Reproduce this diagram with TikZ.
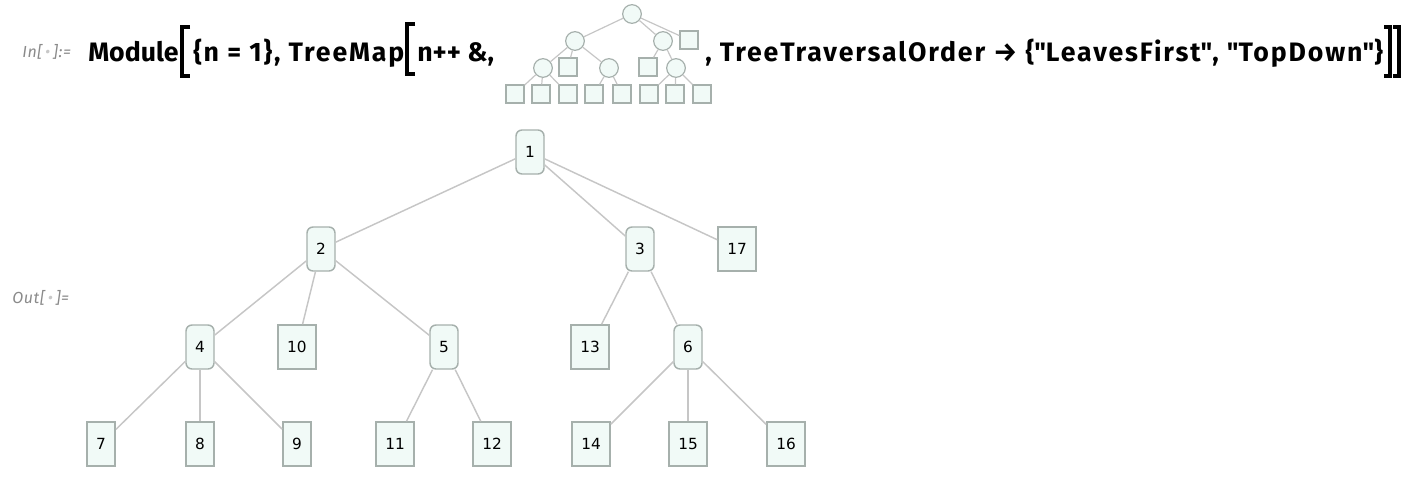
\documentclass[tikz,border=0pt]{standalone}
\usepackage{fontspec}
\setmainfont{Fira Sans}
\newfontfamily\labelfont{DejaVu Sans}
\usetikzlibrary{positioning}
\definecolor{nodefill}{HTML}{F1FAF7}
\definecolor{nodeline}{HTML}{A6B0AC}
\definecolor{edgecol}{HTML}{C6C6C6}
\definecolor{promptcol}{HTML}{8A8A8A}
\definecolor{dotcol}{HTML}{C8C8C8}
\newcommand{\qt}{\textquotedbl}
\tikzset{basic/.style={draw=nodeline,fill=nodefill,line width=1.1pt,text=black,font=\labelfont\fontsize{11.5}{12}\selectfont,minimum height=33pt,inner xsep=7pt}}
\tikzset{inner/.style={basic,rounded corners=4.5pt,minimum width=21pt,inner xsep=6pt}}
\tikzset{leaf/.style={basic}}
\tikzset{edge/.style={draw=edgecol,line width=1.1pt}}
\tikzset{mini/.style={draw=nodeline,fill=nodefill,line width=0.9pt,inner sep=0pt}}
\tikzset{minicirc/.style={mini,circle,minimum size=14pt}}
\tikzset{minisq/.style={mini,rectangle,minimum size=13.5pt}}
\tikzset{miniedge/.style={draw=edgecol,line width=0.9pt}}
\tikzset{code/.style={anchor=base west,inner sep=0pt,font=\bfseries\fontsize{20}{24}\selectfont}}
\tikzset{widecode/.style={code,font=\bfseries\fontsize{20}{24}\selectfont\addfontfeature{LetterSpace=7}}}
\tikzset{prompt/.style={anchor=base west,inner sep=0pt,text=promptcol,font=\itshape\fontsize{12}{14}\selectfont\addfontfeature{LetterSpace=4}}}
\tikzset{brack/.style={line width=2.4pt,line cap=butt}}

\begin{document}
\begin{tikzpicture}[x=0.75pt,y=-0.75pt]
\useasboundingbox (0,0) rectangle (1406,492);

% Define input line
\node[prompt] (in) at (22,58) {In[\,{\color{dotcol}•}\,]:=};
\node[code] (c1) at (88,62) {Module};
\node[widecode] (c2) at (193,62) {\{n = 1\}, TreeMap};
\node[code] (c3) at (417,62) {n++ \&,};
\node[widecode] (c4) at (705,62) {, TreeTraversalOrder → \{\qt LeavesFirst\qt, \qt TopDown\qt\}};

% Define brackets
\draw[brack] (190,27) -| (182,76) -- (190,76);
\draw[brack] (415,24) -| (407,74) -- (415,74);
\draw[brack] (1384,27) -| (1390,76) -- (1384,76);
\draw[brack] (1393,27) -| (1399,76) -- (1393,76);

% Define small tree
\node[minicirc] at (632,14) (m1) {};
\node[minicirc] at (575,41) (m2) {};
\node[minicirc] at (663,41) (m3) {};
\node[minisq] at (689,40) (m17) {};
\node[minicirc] at (543,68) (m4) {};
\node[minisq] at (568,67) (m10) {};
\node[minicirc] at (609,68) (m5) {};
\node[minisq] at (648,67) (m13) {};
\node[minicirc] at (676,68) (m6) {};
\node[minisq] at (515,94) (m7) {};
\node[minisq] at (541,94) (m8) {};
\node[minisq] at (568,94) (m9) {};
\node[minisq] at (594,94) (m11) {};
\node[minisq] at (622,94) (m12) {};
\node[minisq] at (649,94) (m14) {};
\node[minisq] at (675,94) (m15) {};
\node[minisq] at (702,94) (m16) {};

\path[miniedge] (m1) -- (m2);
\path[miniedge] (m1) -- (m3);
\path[miniedge] (m1) -- (m17);
\path[miniedge] (m2) -- (m4);
\path[miniedge] (m2) -- (m10);
\path[miniedge] (m2) -- (m5);
\path[miniedge] (m3) -- (m13);
\path[miniedge] (m3) -- (m6);
\path[miniedge] (m4) -- (m7);
\path[miniedge] (m4) -- (m8);
\path[miniedge] (m4) -- (m9);
\path[miniedge] (m5) -- (m11);
\path[miniedge] (m5) -- (m12);
\path[miniedge] (m6) -- (m14);
\path[miniedge] (m6) -- (m15);
\path[miniedge] (m6) -- (m16);

% Define output line
\node[prompt] (out) at (12,303) {Out[\,{\color{dotcol}•}\,]=};

% Define inner nodes
\node[inner] at (530,152) (n1) {1};
\node[inner] at (321,249) (n2) {2};
\node[inner] at (640,249) (n3) {3};
\node[inner] at (200,347) (n4) {4};
\node[inner] at (444,347) (n5) {5};
\node[inner] at (688,347) (n6) {6};

% Define leaves
\node[leaf] at (737,249) (n17) {17};
\node[leaf] at (297,347) (n10) {10};
\node[leaf] at (590,347) (n13) {13};
\node[leaf] at (101,444) (n7) {7};
\node[leaf] at (200,444) (n8) {8};
\node[leaf] at (297,444) (n9) {9};
\node[leaf] at (395,444) (n11) {11};
\node[leaf] at (492,444) (n12) {12};
\node[leaf] at (591,444) (n14) {14};
\node[leaf] at (688,444) (n15) {15};
\node[leaf] at (786,444) (n16) {16};

% Define paths
\path[edge] (n1) -- (n2);
\path[edge] (n1) -- (n3);
\path[edge] (n1) -- (n17);
\path[edge] (n2) -- (n4);
\path[edge] (n2) -- (n10);
\path[edge] (n2) -- (n5);
\path[edge] (n3) -- (n13);
\path[edge] (n3) -- (n6);
\path[edge] (n4) -- (n7);
\path[edge] (n4) -- (n8);
\path[edge] (n4) -- (n9);
\path[edge] (n5) -- (n11);
\path[edge] (n5) -- (n12);
\path[edge] (n6) -- (n14);
\path[edge] (n6) -- (n15);
\path[edge] (n6) -- (n16);
\end{tikzpicture}
\end{document}
